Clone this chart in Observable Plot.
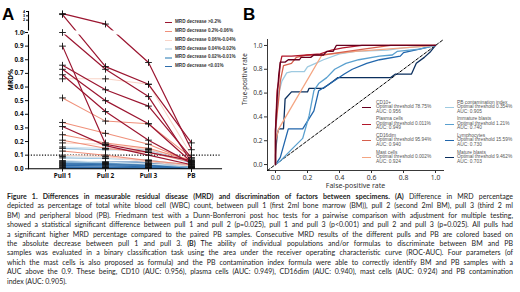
<!DOCTYPE html>
<html><head><meta charset="utf-8">
<script src="https://cdn.jsdelivr.net/npm/d3@7"></script>
<script src="https://cdn.jsdelivr.net/npm/@observablehq/plot@0.6"></script>
<style>
body{margin:0;background:#fff;}
#wrap{position:relative;width:520px;height:292px;overflow:hidden;font-family:"Liberation Sans",Arial,sans-serif;background:#fff;}
.abs{position:absolute;}
#wrap svg{overflow:visible;background:transparent;}
.panel{position:absolute;font-weight:bold;font-size:17px;color:#000;line-height:1;}
.legA{position:absolute;font-size:4.6px;font-weight:bold;color:#333;line-height:1;white-space:nowrap;}
.swA{position:absolute;height:1.3px;width:7px;}
.legB{position:absolute;font-size:4.8px;color:#555;line-height:4.6px;white-space:nowrap;}
.swB{position:absolute;height:1.2px;width:9px;}
#cap{position:absolute;left:7px;top:192px;width:506px;font-family:Lato,"Liberation Sans",sans-serif;font-size:7px;line-height:9.4px;color:#222;}
#cap div{text-align:justify;text-align-last:justify;white-space:nowrap;}
#cap div.last{text-align-last:left;}
</style></head><body><div id="wrap"></div>
<script>
// ---------- Panel A data ----------
const pulls = ["Pull 1", "Pull 2", "Pull 3", "PB"];
const decreaseLabels = ["MRD decrease >0.2%", "MRD decrease 0.2%-0.06%", "MRD decrease 0.06%-0.04%", "MRD decrease 0.04%-0.02%", "MRD decrease 0.02%-0.01%", "MRD decrease <0.01%"];
const decreaseColors = ["#9b1530", "#f0907a", "#f9d3c6", "#d3e4ef", "#8fbad8", "#2e6dab"];
const mrdPull1 = [3.5, 3.3, 1.0, 0.9, 0.76, 0.73, 0.69, 0.31, 0.52, 0.34, 0.25, 0.21, 0.13, 0.66, 0.19, 0.10, 0.16, 0.09, 0.06, 0.15, 0.08, 0.05, 0.055, 0.045, 0.04, 0.035, 0.03, 0.025, 0.02, 0.015, 0.01, 0.005];
const mrdPull2 = [1.1, 0.75, 0.73, 0.18, 0.58, 0.50, 0.42, 0.17, 0.35, 0.26, 0.19, 0.15, 0.10, 0.66, 0.18, 0.09, 0.15, 0.08, 0.05, 0.14, 0.075, 0.045, 0.05, 0.04, 0.04, 0.03, 0.03, 0.02, 0.02, 0.01, 0.01, 0.005];
const mrdPull3 = [0.78, 0.62, 0.53, 0.12, 0.46, 0.33, 0.21, 0.10, 0.33, 0.18, 0.15, 0.12, 0.06, 0.62, 0.14, 0.05, 0.13, 0.06, 0.035, 0.14, 0.065, 0.035, 0.05, 0.04, 0.035, 0.03, 0.025, 0.02, 0.015, 0.01, 0.008, 0.004];
const mrdPB = [0.14, 0.19, 0.05, 0.06, 0.08, 0.05, 0.04, 0.03, 0.08, 0.05, 0.06, 0.05, 0.03, 0.10, 0.07, 0.02, 0.05, 0.03, 0.02, 0.04, 0.02, 0.01, 0.02, 0.015, 0.01, 0.01, 0.008, 0.006, 0.005, 0.004, 0.003, 0.002];
const decreaseGroup = [0, 0, 0, 0, 0, 0, 0, 0, 1, 1, 1, 1, 1, 2, 2, 2, 3, 3, 3, 4, 4, 4, 5, 5, 5, 5, 5, 5, 5, 5, 5, 5];
const yTicksLow = [0, 0.1, 0.2, 0.3, 0.4, 0.5, 0.6, 0.7, 0.8, 0.9, 1.0];
const yTicksBroken = [1, 2, 3, 4];
const cutoffMRD = [0.1];

// ---------- Panel B data ----------
const rocNames = ["CD10+", "Plasma cells", "CD16dim", "Mast cells", "PB contamination index", "Immature blasts", "Lymphocytes", "Mature blasts"];
const rocThresholds = ["78.75%", "0.011%", "95.94%", "0.002%", "0.354%", "1.21%", "15.59%", "9.462%"];
const rocAUC = ["0.956", "0.949", "0.940", "0.924", "0.905", "0.740", "0.730", "0.703"];
const rocColors = ["#67001f", "#b2182b", "#d6604d", "#f4a582", "#9ecae1", "#5aa0cf", "#2166ac", "#0b2f5e"];
const rocFPR = [
  [0, 0, 0.01, 0.02, 0.03, 0.06, 0.08, 0.15, 0.16, 0.22, 0.24, 0.3, 0.32, 0.36, 0.38, 1],
  [0, 0, 0.01, 0.02, 0.03, 0.04, 0.1, 0.2, 0.28, 0.35, 0.42, 0.54, 1],
  [0, 0, 0.02, 0.03, 0.05, 0.1, 0.13, 0.2, 0.3, 0.45, 0.55, 0.72, 1],
  [0, 0, 0.02, 0.29, 0.5, 0.8, 1],
  [0, 0, 0.01, 0.02, 0.04, 0.07, 0.1, 0.18, 0.2, 0.25, 0.3, 0.4, 0.5, 0.7, 0.8, 1],
  [0, 0.03, 0.11, 0.17, 0.21, 0.24, 0.27, 0.32, 0.37, 0.44, 0.52, 0.65, 0.73, 0.76, 0.9, 1],
  [0, 0.03, 0.08, 0.17, 0.24, 0.27, 0.33, 0.43, 0.48, 0.57, 0.65, 0.78, 0.8, 0.9, 1],
  [0, 0, 0.01, 0.02, 0.05, 0.06, 0.1, 0.2, 0.21, 0.3, 0.36, 0.39, 0.72, 0.75, 0.85, 0.88, 0.93, 0.97, 1]
];
const rocTPR = [
  [0, 0.28, 0.55, 0.75, 0.86, 0.86, 0.88, 0.88, 0.9, 0.9, 0.92, 0.92, 0.95, 0.95, 1, 1],
  [0, 0.3, 0.62, 0.7, 0.85, 0.91, 0.91, 0.92, 0.93, 0.96, 0.98, 1, 1],
  [0, 0.3, 0.55, 0.7, 0.83, 0.85, 0.9, 0.92, 0.92, 0.95, 0.97, 1, 1],
  [0, 0.2, 0.3, 0.92, 0.95, 0.98, 1],
  [0, 0.22, 0.45, 0.6, 0.7, 0.77, 0.78, 0.78, 0.82, 0.85, 0.88, 0.93, 0.95, 0.96, 0.98, 1],
  [0, 0.03, 0.14, 0.22, 0.41, 0.62, 0.68, 0.73, 0.8, 0.85, 0.88, 0.91, 0.92, 0.95, 0.97, 1],
  [0, 0.06, 0.3, 0.3, 0.45, 0.62, 0.67, 0.76, 0.8, 0.85, 0.88, 0.91, 0.94, 0.97, 1],
  [0, 0.08, 0.25, 0.3, 0.3, 0.55, 0.61, 0.61, 0.64, 0.64, 0.7, 0.73, 0.73, 0.76, 0.76, 0.85, 0.9, 0.95, 1]
];
const rocTicks = [0, 0.2, 0.4, 0.6, 0.8, 1.0];
const chanceLine = [-0.05, 1.05];

const wrap = document.getElementById("wrap");
function add(html) { wrap.insertAdjacentHTML("beforeend", html); }

// ---------- Panel A ----------
// broken y axis: 0–1 linear, then compressed 1–4 segment above a small gap
const brk = v => v <= 1 ? v : 1.0587 + (v - 1) * 0.0318;
const mrdSeries = [mrdPull1, mrdPull2, mrdPull3, mrdPB];
const rows = [];
mrdPull1.forEach((_, i) => pulls.forEach((p, j) => rows.push({id: i, pull: p, v: mrdSeries[j][i], g: decreaseGroup[i]})));
const lineMarks = [5, 4, 3, 2, 1, 0].map(g => Plot.line(rows.filter(d => d.g === g), {
  x: "pull", y: d => brk(d.v), z: "id", stroke: decreaseColors[g], strokeWidth: g === 0 ? 1.2 : 1.05
}));
const brokenLabel = new Map(yTicksBroken.map(v => [brk(v), String(v)]));

const plotA = Plot.plot({
  width: 230, height: 185, marginLeft: 28, marginRight: 9, marginTop: 11, marginBottom: 16.7,
  style: {background: "transparent", overflow: "visible"},
  x: {type: "point", domain: pulls, range: [39, 213]},
  y: {domain: [0, brk(4)]},
  marks: [
    Plot.ruleY(cutoffMRD, {stroke: "#111", strokeDasharray: "1.2,1.6", strokeWidth: 1.1}),
    ...lineMarks,
    Plot.frame({anchor: "left", stroke: "#000", strokeWidth: 1.1}),
    Plot.frame({anchor: "bottom", stroke: "#000", strokeWidth: 1.1}),
    Plot.ruleY([(1 + brk(1)) / 2], {stroke: "#fff", strokeWidth: 4, insetLeft: -4}),
    Plot.dot(rows, {x: "pull", y: d => brk(d.v), symbol: "plus", r: 2.3, stroke: "#111", strokeWidth: 0.9}),
    Plot.axisY(yTicksLow, {tickSize: 3, tickPadding: 2, tickFormat: d3.format(".1f"), fontSize: 6.3, fontWeight: "bold", label: null, color: "#111"}),
    Plot.axisY(yTicksBroken.map(brk), {tickSize: 2, tickPadding: 1.5, tickFormat: d => brokenLabel.get(d), fontSize: 3.6, fontWeight: "bold", label: null}),
    Plot.axisX({tickSize: 3, tickPadding: 2, fontSize: 6.5, fontWeight: "bold", label: null, color: "#111"}),
    Plot.text(["MRD%"], {text: d => d, frameAnchor: "left", dx: -18, rotate: -90, fontSize: 6.5, fontWeight: "bold"})
  ]
});
plotA.classList.add("abs");
plotA.style.left = "0px"; plotA.style.top = "0px";
wrap.appendChild(plotA);

add(`<div class="panel" style="left:2px;top:6px;">A</div>`);
decreaseLabels.forEach((lab, i) => {
  const y = 22.7 + i * 8.8;
  add(`<div class="swA" style="left:165px;top:${y - 0.65}px;background:${decreaseColors[i]}"></div>`);
  add(`<div class="legA" style="left:175px;top:${y - 2.5}px;">${lab}</div>`);
});

// ---------- Panel B ----------
const rocRows = [];
rocNames.forEach((n, k) => rocFPR[k].forEach((f, i) => rocRows.push({name: n, k, fpr: f, tpr: rocTPR[k][i]})));
const plotB = Plot.plot({
  width: 280, height: 192, marginLeft: 27, marginRight: 77, marginTop: 39, marginBottom: 22,
  style: {background: "transparent", overflow: "visible"},
  x: {domain: [-0.05, 1.05]},
  y: {domain: [-0.05, 1.05]},
  marks: [
    Plot.frame({anchor: "left", stroke: "#222", strokeWidth: 0.9}),
    Plot.frame({anchor: "bottom", stroke: "#222", strokeWidth: 0.9}),
    Plot.axisX(rocTicks, {tickSize: 3, tickPadding: 1.5, tickFormat: d3.format(".1f"), fontSize: 6.8, label: null, color: "#333"}),
    Plot.axisY(rocTicks, {tickSize: 3, tickPadding: 2, tickFormat: d3.format(".1f"), fontSize: 6.5, label: null, color: "#333"}),
    Plot.text(["False-positive rate"], {text: d => d, frameAnchor: "bottom", dy: 17, fontSize: 7, fill: "#333"}),
    Plot.text(["True-positive rate"], {text: d => d, frameAnchor: "left", dx: -23, rotate: -90, fontSize: 6.3, fill: "#333"}),
    Plot.line(chanceLine.map(v => ({fpr: v, tpr: v})), {x: "fpr", y: "tpr", stroke: "#000", strokeDasharray: "3,2", strokeWidth: 1}),
    ...[7, 6, 5, 4, 3, 2, 1, 0].map(k => Plot.line(rocRows.filter(d => d.k === k), {x: "fpr", y: "tpr", stroke: rocColors[k], strokeWidth: 1.3}))
  ]
});
plotB.classList.add("abs");
plotB.style.left = "240px"; plotB.style.top = "0px";
wrap.appendChild(plotB);

add(`<div class="panel" style="left:243px;top:6px;">B</div>`);
rocNames.forEach((n, k) => {
  const col = k < 4 ? 0 : 1, row = k % 4;
  const top = 100.7 + row * 16.6;
  const sx = col ? 445 : 362, tx = col ? 457 : 376;
  add(`<div class="swB" style="left:${sx}px;top:${top + 6.3}px;background:${rocColors[k]}"></div>`);
  add(`<div class="legB" style="left:${tx}px;top:${top}px;">${n}<br>Optimal threshold ${rocThresholds[k]}<br>AUC: ${rocAUC[k]}</div>`);
});

// ---------- Caption ----------
const captionLines = [
  "<b>Figure 1. Differences in measurable residual disease (MRD) and discrimination of factors between specimens. (A)</b> Difference in MRD percentage",
  "depicted as percentage of total white blood cell (WBC) count, between pull 1 (first 2ml bone marrow (BM)), pull 2 (second 2ml BM), pull 3 (third 2 ml",
  "BM) and peripheral blood (PB). Friedmann test with a Dunn-Bonferroni post hoc tests for a pairwise comparison with adjustment for multiple testing,",
  "showed a statistical significant difference between pull 1 and pull 2 (p=0.025), pull 1 and pull 3 (p&lt;0.001) and pull 2 and pull 3 (p=0.025). All pulls had",
  "a significant higher MRD percentage compared to the paired PB samples. Consecutive MRD results of the different pulls and PB are colored based on",
  "the absolute decrease between pull 1 and pull 3. <b>(B)</b> The ability of individual populations and/or formulas to discriminate between BM and PB",
  "samples was evaluated in a binary classification task using the area under the receiver operating characteristic curve (ROC-AUC). Four parameters (of",
  "which the mast cells is also proposed as formula) and the PB contamination index formula were able to correctly identify BM and PB samples with a",
  "AUC above the 0.9. These being, CD10 (AUC: 0.956), plasma cells (AUC: 0.949), CD16dim (AUC: 0.940), mast cells (AUC: 0.924) and PB contamination",
  "index (AUC: 0.905)."
];
add(`<div id="cap">${captionLines.map((l, i) => `<div${i === captionLines.length - 1 ? ' class="last"' : ''}>${l}</div>`).join("")}</div>`);
</script>
</body></html>
